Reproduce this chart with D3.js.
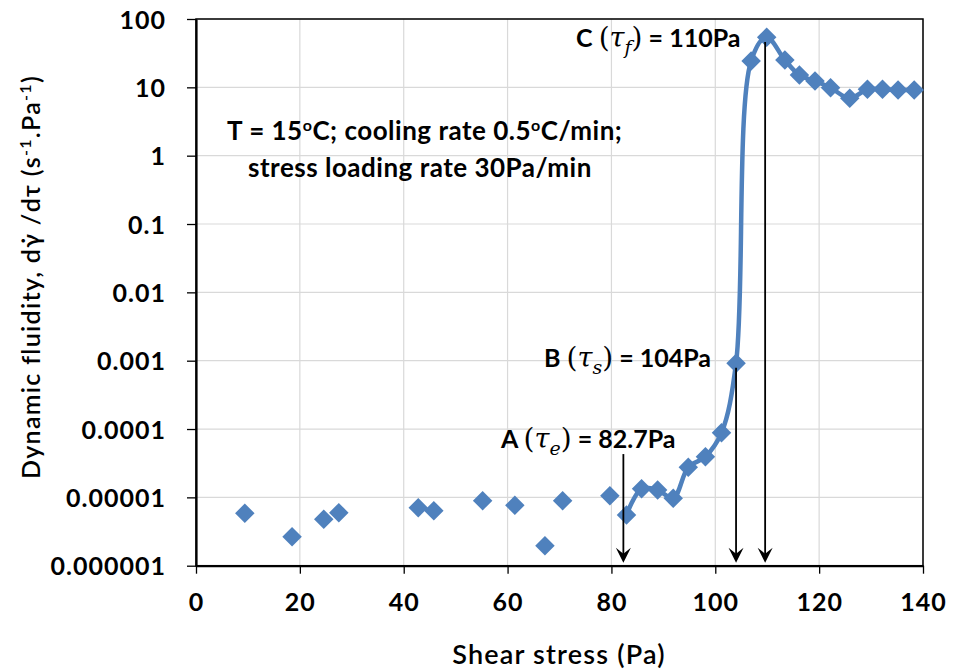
<!DOCTYPE html>
<html>
<head>
<meta charset="utf-8">
<script src="https://cdn.jsdelivr.net/npm/d3@7"></script>
<style>
  html, body { margin: 0; padding: 0; background: #fff; }
  svg { display: block; }
</style>
</head>
<body>
<svg id="chart" width="953" height="672"></svg>
<script>
// ---------- DATA ----------
// Unconnected points (below the onset)
const scatterStress = [9.4, 18.5, 24.6, 27.5, 42.8, 45.8, 55.2, 61.4, 67.2, 70.6, 79.7];
const scatterFluidity = [5.85e-6, 2.66e-6, 4.77e-6, 5.97e-6, 7.07e-6, 6.38e-6, 8.94e-6, 7.65e-6, 1.96e-6, 8.94e-6, 1.06e-5];

// Connected series (from onset A onwards)
const lineStress = [82.9, 85.8, 88.9, 91.9, 94.8, 98.1, 101.2, 104.0, 106.9, 109.9, 113.4, 116.2, 119.2, 122.2, 125.9, 129.3, 132.2, 135.2, 138.3];
const lineFluidity = [5.52e-6, 1.34e-5, 1.28e-5, 9.7e-6, 2.75e-5, 3.94e-5, 8.83e-5, 9.2e-4, 24.3, 53.9, 25.1, 15.1, 12.4, 9.87, 6.90, 9.35, 9.35, 9.14, 9.14];

const xTickValues = [0, 20, 40, 60, 80, 100, 120, 140];
const yTickValues = [1e-6, 1e-5, 1e-4, 1e-3, 1e-2, 1e-1, 1, 10, 100];
const yTickLabels = ["0.000001", "0.00001", "0.0001", "0.001", "0.01", "0.1", "1", "10", "100"];

// Annotation arrows (shear stress positions, Pa) and labels
const arrowStress = [82.3, 104.0, 109.6];
const arrowTopFluidity = [4.3e-5, 7.9e-4, 46];
const annLetters = ["A", "B", "C"];
const annSubs = ["e", "s", "f"];
const annValues = [" = 82.7Pa", " = 104Pa", " = 110Pa"];

// ---------- LAYOUT ----------
const pLeft = 196, pRight = 923, pTop = 19, pBottom = 565.7;
const BLUE = "#4F81BD";
const SANS = "Lato, 'Open Sans', sans-serif";
const SERIF = "'DejaVu Serif', 'Liberation Serif', serif";

const svg = d3.select("#chart");
const x = d3.scaleLinear().domain([0, 140]).range([pLeft, pRight]);
const y = d3.scaleLog().domain([1e-6, 100]).range([pBottom, pTop]);

// gridlines
const grid = svg.append("g");
grid.selectAll("line.h").data(yTickValues).join("line").attr("class", "h")
  .attr("x1", pLeft).attr("x2", pRight)
  .attr("y1", d => y(d)).attr("y2", d => y(d))
  .attr("stroke", "#d9d9d9").attr("stroke-width", 1.2);
grid.selectAll("line.v").data(xTickValues.slice(1)).join("line").attr("class", "v")
  .attr("x1", d => x(d)).attr("x2", d => x(d))
  .attr("y1", pTop).attr("y2", pBottom)
  .attr("stroke", "#d9d9d9").attr("stroke-width", 1.2);

// plot box
svg.append("rect").attr("x", pLeft).attr("y", pTop)
  .attr("width", pRight - pLeft).attr("height", pBottom - pTop)
  .attr("fill", "none").attr("stroke", "#000").attr("stroke-width", 1.5);

// axes
const xAxis = d3.axisBottom(x).tickValues(xTickValues).tickSize(8).tickSizeOuter(0).tickPadding(20);
const yAxis = d3.axisLeft(y).tickValues(yTickValues).tickFormat((d, i) => yTickLabels[i])
  .tickSize(9).tickSizeOuter(0).tickPadding(21);

const gx = svg.append("g").attr("transform", `translate(0,${pBottom})`).call(xAxis);
const gy = svg.append("g").attr("transform", `translate(${pLeft},0)`).call(yAxis);
[gx, gy].forEach(g => {
  g.select(".domain").attr("stroke", "#000").attr("stroke-width", 2.2);
  g.selectAll(".tick line").attr("stroke", "#000").attr("stroke-width", 1.3);
  g.selectAll(".tick text").attr("fill", "#000")
    .style("font-family", SANS).style("font-weight", "bold").style("font-size", "25px")
    .style("letter-spacing", "1px");
});
gx.selectAll(".tick text").attr("dy", "0.71em");
gy.selectAll(".tick text").attr("dy", "0.36em");

// axis titles
svg.append("text").attr("x", 559).attr("y", 664)
  .attr("text-anchor", "middle")
  .style("font-family", SANS).style("font-size", "27px").style("font-weight", "600")
  .style("letter-spacing", "1.2px")
  .text("Shear stress (Pa)");

const yt = svg.append("text").attr("transform", "translate(40,277) rotate(-90)")
  .attr("text-anchor", "middle")
  .style("font-family", SANS).style("font-size", "25px").style("font-weight", "600")
  .style("letter-spacing", "1.3px");
yt.append("tspan").text("Dynamic fluidity, d\u03B3\u0307 /d\u03C4 (s");
yt.append("tspan").attr("dy", -9).style("font-size", "16px").text("-1");
yt.append("tspan").attr("dy", 9).text(".Pa");
yt.append("tspan").attr("dy", -9).style("font-size", "16px").text("-1");
yt.append("tspan").attr("dy", 9).text(")");

// line series
const lineData = lineStress.map((s, i) => [s, lineFluidity[i]]);
const scatterData = scatterStress.map((s, i) => [s, scatterFluidity[i]]);

const lineGen = d3.line().x(d => x(d[0])).y(d => y(d[1])).curve(d3.curveCatmullRom.alpha(0.5));
svg.append("path").datum(lineData)
  .attr("d", lineGen).attr("fill", "none")
  .attr("stroke", BLUE).attr("stroke-width", 4.5).attr("stroke-linejoin", "round");

const diamond = d3.symbol().type(d3.symbolSquare).size(190)();
svg.append("g").selectAll("path").data(scatterData.concat(lineData)).join("path")
  .attr("d", diamond)
  .attr("transform", d => `translate(${x(d[0])},${y(d[1])}) rotate(45)`)
  .attr("fill", BLUE);

// arrows
const arrows = svg.append("g");
arrowStress.forEach((s, i) => {
  const ax = x(s), y0 = y(arrowTopFluidity[i]), tip = pBottom - 3;
  arrows.append("line").attr("x1", ax).attr("x2", ax).attr("y1", y0).attr("y2", tip - 6)
    .attr("stroke", "#000").attr("stroke-width", 1.8);
  arrows.append("path")
    .attr("d", `M${ax},${tip} L${ax - 7.5},${tip - 15} L${ax},${tip - 9} L${ax + 7.5},${tip - 15} Z`)
    .attr("fill", "#000");
});

// annotation labels
const annPos = [[501, 448], [544, 367], [576, 47]];
annPos.forEach((p, i) => {
  const t = svg.append("text").attr("x", p[0]).attr("y", p[1])
    .style("font-family", SANS).style("font-size", "25px").style("font-weight", "bold");
  t.append("tspan").text(annLetters[i] + " ");
  t.append("tspan").style("font-family", SERIF).style("font-weight", "normal").style("font-size", "28px").text("(");
  t.append("tspan").style("font-family", SERIF).style("font-style", "italic").style("font-weight", "normal").style("font-size", "27px").text("\u03C4");
  t.append("tspan").attr("dy", 7).style("font-family", SERIF).style("font-style", "italic").style("font-weight", "normal").style("font-size", "19px").text(annSubs[i]);
  t.append("tspan").attr("dy", -7).style("font-family", SERIF).style("font-weight", "normal").style("font-size", "28px").text(")");
  t.append("tspan").text(annValues[i]);
});

// condition text
const c1 = svg.append("text").attr("x", 227).attr("y", 140)
  .style("font-family", SANS).style("font-size", "26px").style("font-weight", "bold")
  .style("letter-spacing", "0.5px");
c1.append("tspan").text("T = 15");
c1.append("tspan").attr("dy", -9).style("font-size", "16px").text("o");
c1.append("tspan").attr("dy", 9).text("C; cooling rate 0.5");
c1.append("tspan").attr("dy", -9).style("font-size", "16px").text("o");
c1.append("tspan").attr("dy", 9).text("C/min;");
svg.append("text").attr("x", 248).attr("y", 177)
  .style("font-family", SANS).style("font-size", "26px").style("font-weight", "bold")
  .style("letter-spacing", "0.5px")
  .text("stress loading rate 30Pa/min");
</script>
</body>
</html>
